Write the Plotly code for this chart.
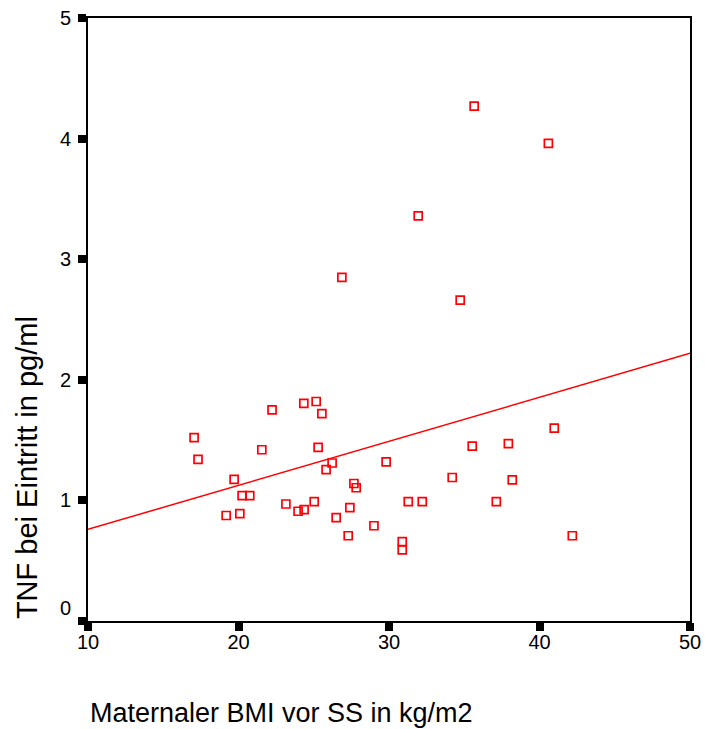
import plotly.graph_objects as go

# Data
bmi = [35.66, 40.59, 31.94, 26.87, 34.73, 40.98, 22.23, 24.34, 25.16, 25.54,
       17.05, 17.31, 21.55, 25.29, 26.22, 25.82, 29.81, 35.53, 37.93, 34.20,
       38.19, 19.71, 20.24, 20.75, 23.15, 25.03, 27.67, 27.82, 31.28, 32.21,
       37.13, 19.18, 20.09, 23.96, 24.36, 26.49, 27.40, 29.00, 27.29, 30.88,
       30.88, 42.18]
tnf = [4.27, 3.96, 3.36, 2.85, 2.66, 1.60, 1.75, 1.805, 1.82, 1.72,
       1.52, 1.34, 1.42, 1.44, 1.31, 1.255, 1.32, 1.45, 1.47, 1.19,
       1.17, 1.175, 1.04, 1.04, 0.97, 0.99, 1.14, 1.105, 0.99, 0.99,
       0.99, 0.875, 0.89, 0.91, 0.923, 0.857, 0.94, 0.79, 0.707, 0.658,
       0.59, 0.707]

# Fit line endpoints
fit_x = [10, 50]
fit_y = [0.76, 2.22]

x_ticks = [10, 20, 30, 40, 50]
y_ticks = [0, 1, 2, 3, 4, 5]
y_ticktext = ["0<br> ", "1", "2", "3", "4", "5"]

x_title = "Maternaler BMI vor SS in kg/m2"
y_title = "TNF bei Eintritt in pg/ml"

fig = go.Figure()
fig.add_trace(go.Scatter(x=fit_x, y=fit_y, mode="lines",
                         line=dict(color="#FF0000", width=1.5),
                         hoverinfo="skip", showlegend=False))
fig.add_trace(go.Scatter(x=bmi, y=tnf, mode="markers",
                         marker=dict(symbol="square-open", size=8, color="#FF0000",
                                     line=dict(color="#FF0000", width=1.7)),
                         showlegend=False))

font = "Liberation Sans, Arial, sans-serif"
axis_common = dict(showgrid=False, zeroline=False, showline=True, linecolor="black",
                   linewidth=2, mirror=True, ticks="outside", ticklen=8, tickwidth=8,
                   tickcolor="black", automargin=False, ticklabeloverflow="allow",
                   tickfont=dict(family=font, size=20, color="black"))

fig.update_layout(
    width=705, height=729,
    margin=dict(l=88, r=15, t=18, b=108),
    plot_bgcolor="white", paper_bgcolor="white",
    xaxis=dict(range=[10, 50], tickvals=x_ticks, ticklabelstandoff=-6, **axis_common),
    yaxis=dict(range=[0, 5], tickvals=y_ticks, ticktext=y_ticktext,
               ticklabelstandoff=3, **axis_common),
    annotations=[
        dict(text=x_title, xref="paper", yref="paper", x=0, y=-0.1526,
             xanchor="left", yanchor="middle", showarrow=False,
             font=dict(family=font, size=27, color="black")),
        dict(text=y_title, xref="paper", yref="paper", x=-0.102, y=0,
             xanchor="center", yanchor="bottom", textangle=-90, showarrow=False,
             font=dict(family=font, size=29, color="black")),
    ],
)

fig.write_html("out.html",
               config={"displayModeBar": False},
               post_script="document.body.style.margin='0';document.body.style.overflow='hidden';")
